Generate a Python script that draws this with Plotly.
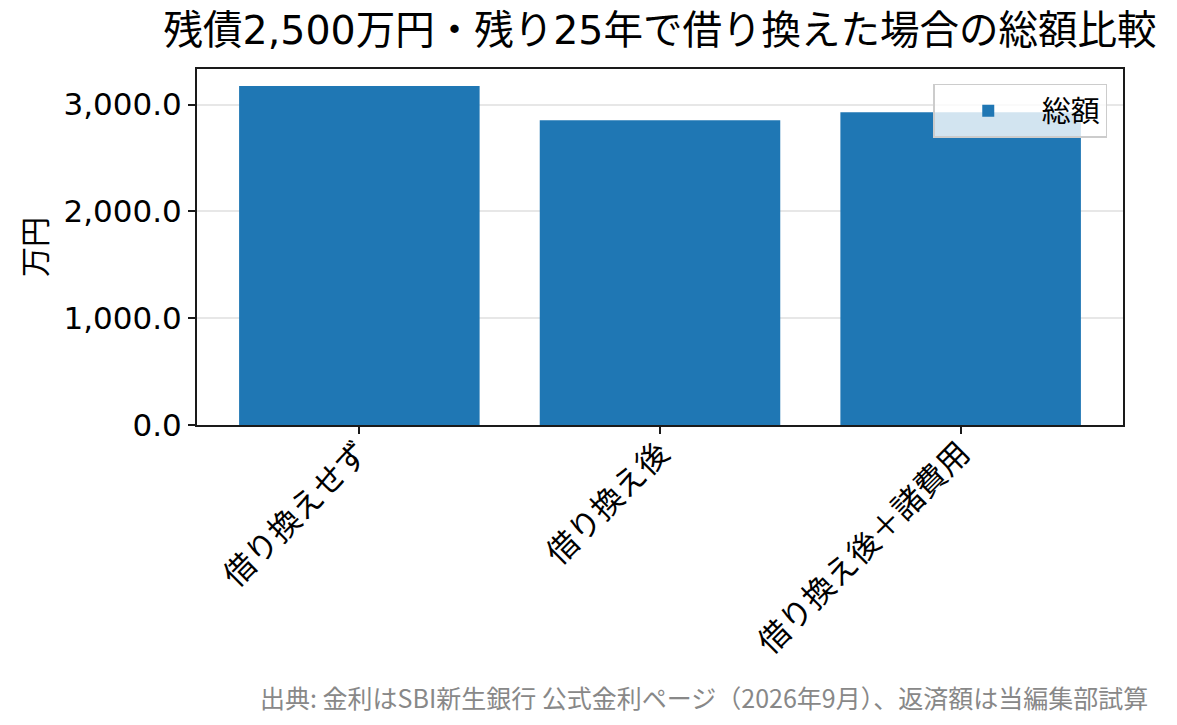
import plotly.graph_objects as go

# 借り換えシナリオ別の総返済額(万円)
categories = ["借り換えせず", "借り換え後", "借り換え後＋諸費用"]
totals = [3175, 2853, 2928]
series_name = "総額"
title_text = "残債2,500万円・残り25年で借り換えた場合の総額比較"
y_title = "万円"
source_note = "出典: 金利はSBI新生銀行 公式金利ページ（2026年9月）、返済額は当編集部試算"

W, H = 1177, 725
OFF = 8                      # ページ body の余白ぶんを差し引く
FW, FH = W - 2 * OFF, H - 2 * OFF
PX0, PX1, PY0, PY1 = 197, 1123, 69, 425   # 軸の枠(ページ座標)
L, R = PX0 - OFF, (W - OFF) - PX1
T, B = PY0 - OFF, (H - OFF) - PY1
JP = "Noto Sans CJK JP"
TICK_FONT = "DejaVu Sans, Noto Sans CJK JP"

fig = go.Figure(go.Bar(x=categories, y=totals, name=series_name, width=0.8,
                       marker=dict(color="#1f77b4", line=dict(width=0)),
                       showlegend=True))

fig.update_layout(
    width=FW, height=FH, margin=dict(l=L, r=R, t=T, b=B),
    paper_bgcolor="white", plot_bgcolor="white",
    font=dict(family=TICK_FONT, color="black", size=30),
    title=dict(text=title_text, font=dict(family=TICK_FONT, size=39.5, color="black"),
               x=0.5, xref="paper", xanchor="center",
               y=1 - 8 / FH, yref="container", yanchor="top", pad=dict(t=0)),
    legend=dict(x=0.983, y=0.958, xanchor="right", yanchor="top",
                bgcolor="rgba(255,255,255,0.8)", bordercolor="#cccccc", borderwidth=1.5,
                itemwidth=97, font=dict(family=JP, size=29, color="black")),
    showlegend=True,
)
fig.update_xaxes(type="category", range=[-0.54, 2.54], showgrid=False, zeroline=False,
                 showline=True, linecolor="#1a1a1a", linewidth=2, mirror=True,
                 ticks="outside", ticklen=7, tickwidth=1.5, tickcolor="#1a1a1a",
                 tickangle=-45, ticklabelstandoff=-12,
                 tickfont=dict(family=JP, size=31.5))
fig.update_yaxes(range=[0, max(totals) * 1.05], dtick=1000, tickformat=",.1f",
                 showgrid=True, gridcolor="rgba(176,176,176,0.3)", gridwidth=1.5,
                 zeroline=False, layer="above traces",
                 showline=True, linecolor="#1a1a1a", linewidth=2, mirror=True,
                 ticks="outside", ticklen=7, tickwidth=1.5, tickcolor="#1a1a1a",
                 tickfont=dict(family=TICK_FONT, size=31),
                 title=dict(text=y_title, font=dict(family=JP, size=30), standoff=8))

fig.add_annotation(text=source_note, xref="paper", yref="paper",
                   x=(1150 - PX0) / (PX1 - PX0), y=(PY1 - 697) / (PY1 - PY0),
                   xanchor="right", yanchor="middle", showarrow=False,
                   font=dict(family=JP, size=25, color="#888888"))

fig.write_html("out.html")
